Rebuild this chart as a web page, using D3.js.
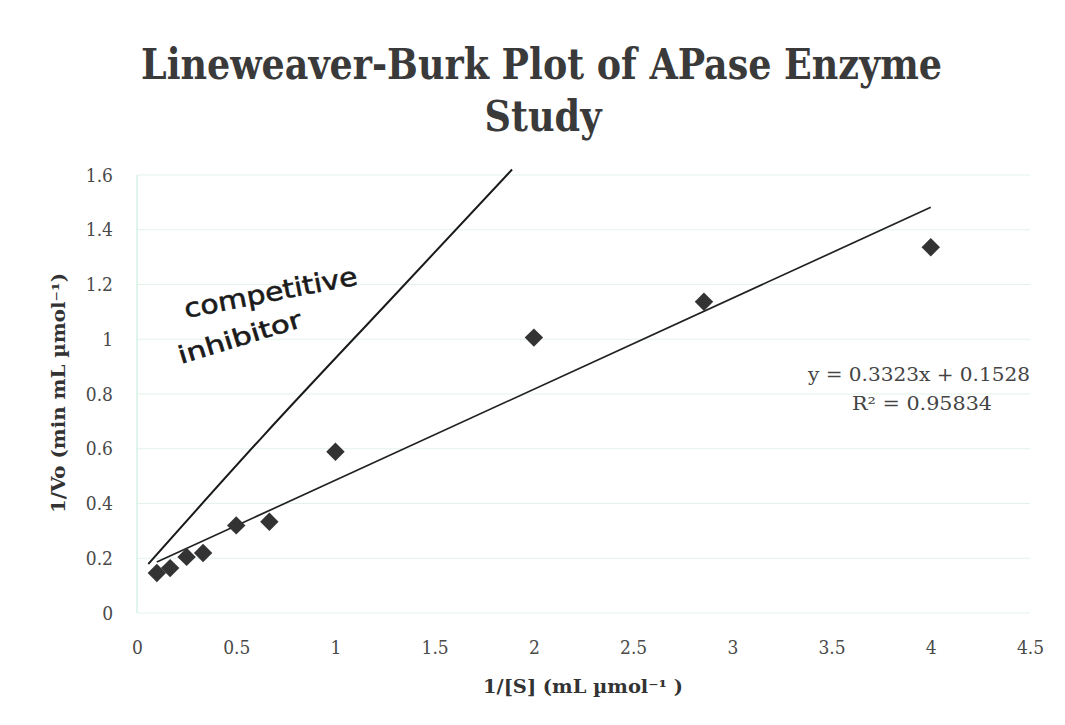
<!DOCTYPE html>
<html>
<head>
<meta charset="utf-8">
<script src="https://cdn.jsdelivr.net/npm/d3@7/dist/d3.min.js"></script>
<style>
  html, body { margin: 0; padding: 0; background: #ffffff; }
  svg { display: block; }
</style>
</head>
<body>
<svg id="chart" width="1065" height="725"></svg>
<script>
// ---- data ----
const invS = [0.1, 0.167, 0.25, 0.333, 0.5, 0.667, 1, 2, 2.857, 4];
const invV = [0.146, 0.164, 0.205, 0.219, 0.32, 0.333, 0.589, 1.006, 1.137, 1.336];
const trendSlope = 0.3323;
const trendIntercept = 0.1528;
const trendRange = [0.1, 4.0];
const inhibitorX = [0.057, 0.64, 1.31, 1.89];
const inhibitorY = [0.179, 0.65, 1.17, 1.62];
const xTicks = [0, 0.5, 1, 1.5, 2, 2.5, 3, 3.5, 4, 4.5];
const xTickLabels = ["0", "0.5", "1", "1.5", "2", "2.5", "3", "3.5", "4", "4.5"];
const yTicks = [0, 0.2, 0.4, 0.6, 0.8, 1, 1.2, 1.4, 1.6];
const yTickLabels = ["0", "0.2", "0.4", "0.6", "0.8", "1", "1.2", "1.4", "1.6"];
const titleLines = ["Lineweaver-Burk Plot of APase Enzyme", "Study"];
const yTitle = "1/Vo (min mL \u00b5mol\u207b\u00b9)";
const xTitle = "1/[S] (mL \u00b5mol\u207b\u00b9 )";
const eqLines = ["y = 0.3323x + 0.1528", "R\u00b2 = 0.95834"];
const noteLines = ["competitive", "inhibitor"];

// ---- layout ----
const svg = d3.select("#chart");
const plotL = 137, plotR = 1030, plotT = 175, plotB = 613;
const serif = "'DejaVu Serif Condensed', 'DejaVu Serif', serif";

const x = d3.scaleLinear().domain([0, 4.5]).range([plotL, plotR]);
const y = d3.scaleLinear().domain([0, 1.6]).range([plotB, plotT]);

// gridlines
svg.append("g").selectAll("line").data(yTicks).join("line")
  .attr("x1", plotL).attr("x2", plotR)
  .attr("y1", d => y(d)).attr("y2", d => y(d))
  .attr("stroke", "#e2f3ea").attr("stroke-width", 1.2);

// vertical axis line
svg.append("line").attr("x1", plotL).attr("x2", plotL).attr("y1", plotT).attr("y2", plotB)
  .attr("stroke", "#cdeee0").attr("stroke-width", 1.2);

// axes
const yAxis = d3.axisLeft(y).tickValues(yTicks)
  .tickFormat((d, i) => yTickLabels[i]).tickSize(0).tickPadding(24);
const gy = svg.append("g").attr("transform", `translate(${plotL},0)`).call(yAxis);
gy.select(".domain").remove();
gy.selectAll("text").attr("font-family", serif).attr("font-size", 19).attr("fill", "#4a4a4a");

const xAxis = d3.axisBottom(x).tickValues(xTicks)
  .tickFormat((d, i) => xTickLabels[i]).tickSize(0).tickPadding(28);
const gx = svg.append("g").attr("transform", `translate(0,${plotB})`).call(xAxis);
gx.select(".domain").remove();
gx.selectAll("text").attr("font-family", serif).attr("font-size", 19).attr("fill", "#4a4a4a");

// competitive inhibitor line (hand drawn)
const inhib = inhibitorX.map((v, i) => [v, inhibitorY[i]]);
svg.append("path").datum(inhib)
  .attr("d", d3.line().x(d => x(d[0])).y(d => y(d[1])).curve(d3.curveMonotoneX))
  .attr("fill", "none").attr("stroke", "#1a1a1a").attr("stroke-width", 2);

// trendline
svg.append("line")
  .attr("x1", x(trendRange[0])).attr("y1", y(trendSlope * trendRange[0] + trendIntercept))
  .attr("x2", x(trendRange[1])).attr("y2", y(trendSlope * trendRange[1] + trendIntercept))
  .attr("stroke", "#222").attr("stroke-width", 1.7);

// data points (diamonds)
const sym = d3.symbol().type(d3.symbolSquare).size(170);
svg.append("g").selectAll("path").data(invS.map((v, i) => [v, invV[i]])).join("path")
  .attr("d", sym)
  .attr("transform", d => `translate(${x(d[0])},${y(d[1])}) rotate(45)`)
  .attr("fill", "#333");

// title
svg.append("text").attr("x", 541.5).attr("y", 79).attr("text-anchor", "middle")
  .attr("font-family", serif).attr("font-weight", "bold").attr("font-size", 42)
  .attr("fill", "#3a3a3a").attr("textLength", 801).attr("lengthAdjust", "spacingAndGlyphs")
  .text(titleLines[0]);
svg.append("text").attr("x", 543).attr("y", 131).attr("text-anchor", "middle")
  .attr("font-family", serif).attr("font-weight", "bold").attr("font-size", 42)
  .attr("fill", "#3a3a3a").attr("textLength", 117).attr("lengthAdjust", "spacingAndGlyphs")
  .text(titleLines[1]);

// y axis title
svg.append("text").attr("transform", "translate(65,393) rotate(-90)")
  .attr("text-anchor", "middle")
  .attr("font-family", serif).attr("font-weight", "bold").attr("font-size", 18)
  .attr("fill", "#333").attr("textLength", 240).attr("lengthAdjust", "spacingAndGlyphs")
  .text(yTitle);

// x axis title
svg.append("text").attr("x", 583).attr("y", 693).attr("text-anchor", "middle")
  .attr("font-family", serif).attr("font-weight", "bold").attr("font-size", 18)
  .attr("fill", "#333").attr("textLength", 200).attr("lengthAdjust", "spacingAndGlyphs")
  .text(xTitle);

// trendline equation
svg.append("text").attr("x", 919).attr("y", 381).attr("text-anchor", "middle")
  .attr("font-family", serif).attr("font-size", 18).attr("fill", "#444")
  .attr("textLength", 222).attr("lengthAdjust", "spacingAndGlyphs")
  .text(eqLines[0]);
svg.append("text").attr("x", 922).attr("y", 410).attr("text-anchor", "middle")
  .attr("font-family", serif).attr("font-size", 18).attr("fill", "#444")
  .attr("textLength", 140).attr("lengthAdjust", "spacingAndGlyphs")
  .text(eqLines[1]);

// handwritten annotation
svg.append("text").attr("transform", "translate(186,318) rotate(-11)")
  .attr("font-family", "'DejaVu Sans', sans-serif").attr("font-size", 26)
  .attr("fill", "#1a1a1a").attr("stroke", "#1a1a1a").attr("stroke-width", 0.6)
  .attr("textLength", 176).attr("lengthAdjust", "spacingAndGlyphs")
  .text(noteLines[0]);
svg.append("text").attr("transform", "translate(181,364) rotate(-17)")
  .attr("font-family", "'DejaVu Sans', sans-serif").attr("font-size", 24)
  .attr("fill", "#1a1a1a").attr("stroke", "#1a1a1a").attr("stroke-width", 0.6)
  .attr("textLength", 128).attr("lengthAdjust", "spacingAndGlyphs")
  .text(noteLines[1]);
</script>
</body>
</html>
